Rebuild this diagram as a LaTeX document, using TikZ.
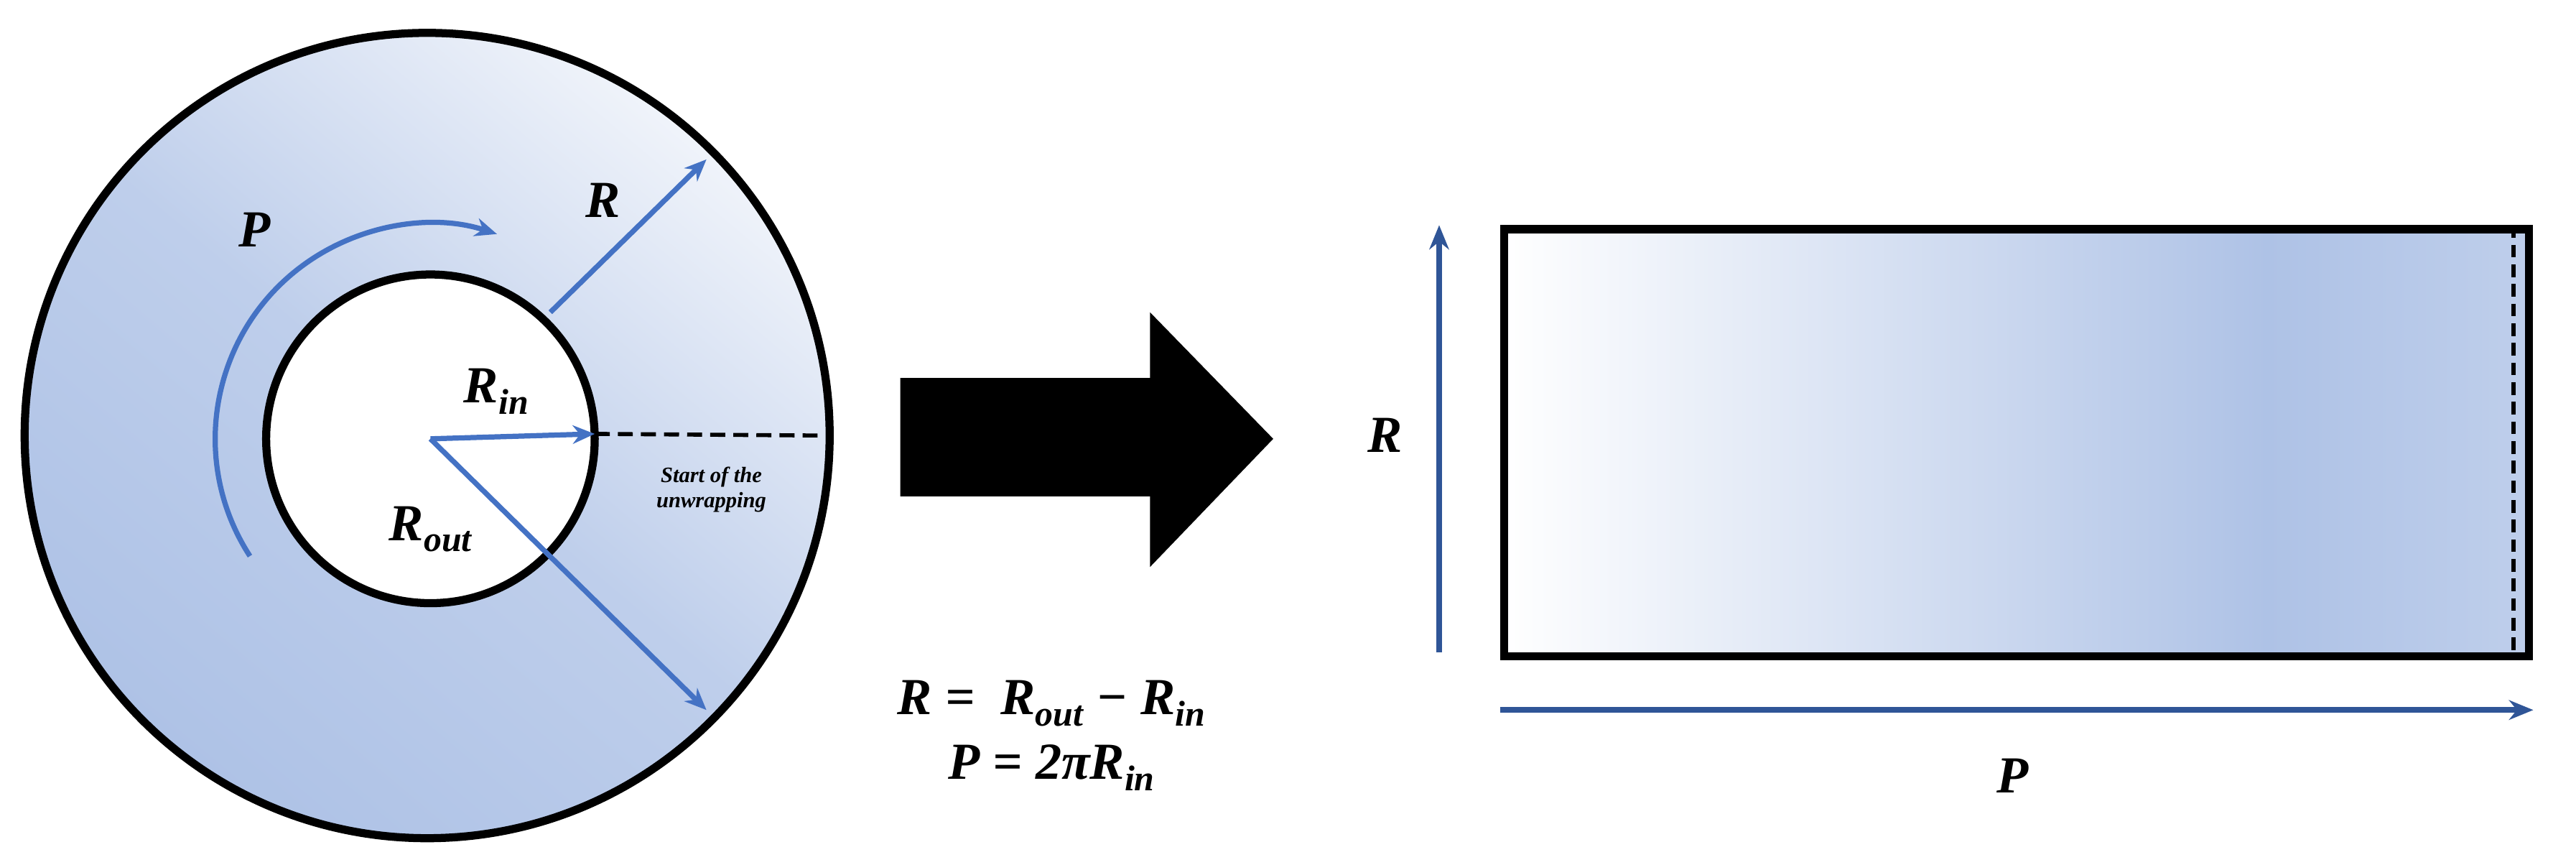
\documentclass[tikz,border=0pt]{standalone}
\usepackage{fontspec}
\setmainfont{Liberation Serif}
\usetikzlibrary{arrows.meta}
\definecolor{ablue}{HTML}{4472C4}
\definecolor{dblue}{HTML}{2F5597}
\definecolor{sblue}{HTML}{AEC2E6}
\definecolor{lblue}{HTML}{E6ECF7}
\newcommand{\sbx}[1]{\raisebox{-0.22em}{\fontsize{62}{66}\selectfont #1}}
\tikzset{
 big/.style={font=\fontsize{90}{100}\selectfont\bfseries\itshape},
 arr/.style={ablue,line width=9pt,-{Stealth[length=38pt,width=32pt]}},
 darr/.style={dblue,line width=10pt,-{Stealth[length=42pt,width=34pt]}},
 edge/.style={black,line width=14pt}
}
\begin{document}
\begin{tikzpicture}[x=0.1cm,y=-0.1cm]
\useasboundingbox (0,0) rectangle (1568,526);
% ring
\shade[top color=lblue!60,bottom color=sblue,middle color=sblue!80,shading angle=-40] (260,265) circle (245);
\fill[white] (262,267) circle (100);
\node[edge,circle,draw,minimum size=490*0.1cm,inner sep=0] (outer) at (260,265) {};
\node[edge,circle,draw,minimum size=200*0.1cm,inner sep=0] (inner) at (262,267) {};
\coordinate (c) at (262,267);
\coordinate (rin) at (362,264);
\coordinate (de) at (500,265);
\draw[black,line width=7pt,dash pattern=on 26pt off 14pt] (rin) -- (de);
\coordinate (rs) at (335,190);
\coordinate (re) at (430,97);
\draw[arr] (rs) -- (re);
\draw[arr] (c) -- (rin);
\coordinate (ro) at (430,432);
\draw[arr] (c) -- (ro);
\draw[arr] ([shift={(147:131)}]c) arc[start angle=147,end angle=288,radius=131];
\node[big] (lp) at (155,140) {P};
\node[big] (lr) at (367,122) {R};
\node[big] (lrin) at (302,238) {R\sbx{in}};
\node[big] (lrout) at (262,322) {R\sbx{out}};
\node[font=\fontsize{38}{44}\selectfont\bfseries\itshape,align=center] (st) at (433,298) {Start of the\\unwrapping};
% big arrow
\fill[black] (548,230) -- (700,230) -- (700,190) -- (775,267) -- (700,345) -- (700,302) -- (548,302) -- cycle;
% rectangle
\shade[left color=white,right color=sblue] (913,137) rectangle (1380,397);
\shade[left color=sblue,right color=sblue!80] (1379,137) rectangle (1537,397);
\node[edge,draw,minimum width=624*0.1cm,minimum height=260*0.1cm,inner sep=0,anchor=north west] (rect) at (913,137) {};
\draw[black,line width=7pt,dash pattern=on 22pt off 12pt] (1530,137) -- (1530,397);
\coordinate (ra) at (876,397); \coordinate (rb) at (876,137);
\draw[darr] (ra) -- (rb);
\coordinate (pa) at (913,432); \coordinate (pb) at (1542,432);
\draw[darr] (pa) -- (pb);
\node[big] (R2) at (843,265) {R};
\node[big] (P2) at (1225,472) {P};
\node[big] (eq1) at (640,428) {R =\ \ R\sbx{out} − R\sbx{in}};
\node[big] (eq2) at (640,467) {P = 2πR\sbx{in}};
\end{tikzpicture}
\end{document}
